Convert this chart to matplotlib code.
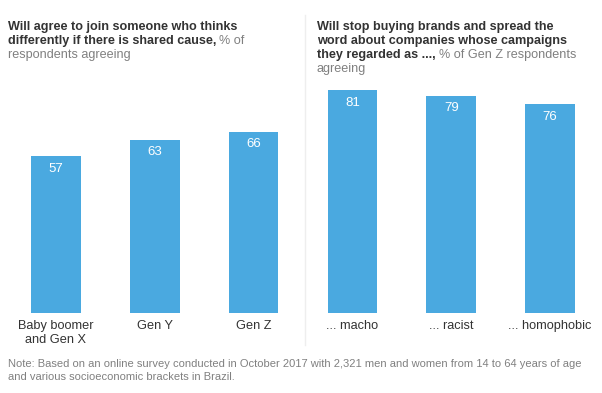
import matplotlib.pyplot as plt
from matplotlib.lines import Line2D

plt.rcParams['font.family'] = ['Liberation Sans', 'DejaVu Sans']

categories = ['Baby boomer\nand Gen X', 'Gen Y', 'Gen Z', '... macho', '... racist', '... homophobic']
values = [57, 63, 66, 81, 79, 76]

W, H = 602, 393
BAR = '#4aa9e0'
DARK = '#333333'
GRAY = '#808080'

fig = plt.figure(figsize=(W / 100, H / 100), dpi=100)
renderer = fig.canvas.get_renderer()

# one axes for both panels, same scale
ax = fig.add_axes([6.6 / W, (H - 313) / H, 592.8 / W, 275 / H])
x = range(len(values))
bars = ax.bar(x, values, width=0.5, color=BAR)
for b, v in zip(bars, values):
    ax.text(b.get_x() + b.get_width() / 2, v - 4.6, str(v), ha='center', va='center',
            color='white', fontsize=9.5)
ax.set_xlim(-0.5, 5.5)
ax.set_ylim(0, 100)
ax.set_xticks(list(x))
ax.set_xticklabels(categories, fontsize=9.2, color=DARK, linespacing=1.25)
ax.tick_params(axis='x', length=0, pad=5)
ax.set_yticks([])
for s in ax.spines.values():
    s.set_visible(False)


def line(xp, yp, parts, size=9.1):
    # parts: (text, bold) pieces placed one after the other on the same baseline
    for txt, bold in parts:
        t = fig.text(xp / W, 1 - yp / H, txt, fontsize=size,
                     color=DARK if bold else GRAY,
                     fontweight='bold' if bold else 'normal',
                     va='baseline', ha='left')
        xp = t.get_window_extent(renderer).x1 + 3


# left title
line(8, 30, [('Will agree to join someone who thinks', True)])
line(8, 44, [('differently if there is shared cause,', True), ('% of', False)])
line(8, 58, [('respondents agreeing', False)])

# right title
line(317, 30, [('Will stop buying brands and spread the', True)])
line(317, 44, [('word about companies whose campaigns', True)])
line(317, 58, [('they regarded as ...,', True), ('% of Gen Z respondents', False)])
line(317, 72, [('agreeing', False)])

# divider
fig.add_artist(Line2D([305 / W, 305 / W], [1 - 15 / H, 1 - 345 / H], color='#eeeeee', lw=1))

fig.text(8 / W, 1 - 367 / H, 'Note: Based on an online survey conducted in October 2017 with 2,321 men and women from 14 to 64 years of age',
         fontsize=8.0, color=GRAY, va='baseline')
fig.text(8 / W, 1 - 380 / H, 'and various socioeconomic brackets in Brazil.',
         fontsize=8.0, color=GRAY, va='baseline')

fig.savefig('out.png', dpi=100)
